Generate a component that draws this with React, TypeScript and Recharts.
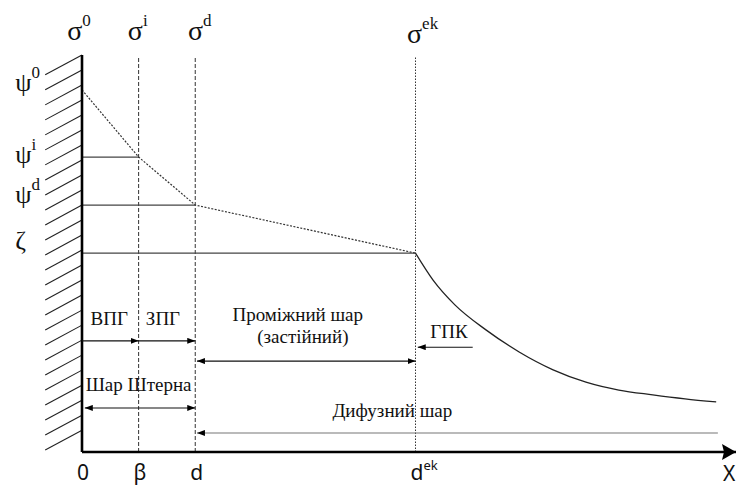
import { ComposedChart, Line, XAxis, YAxis, ReferenceLine, ReferenceDot } from "recharts";

// layer boundaries along x (0, β, d, d^ek)
const boundaryX = [0, 1, 2, 5.89];
const tickMain = ["0", "β", "d", "d"];
const tickSup = ["", "", "", "ek"];
const sigmaSup = ["0", "i", "d", "ek"];

// potential levels ψ0, ψi, ψd, ζ
const levelSymbol = ["ψ", "ψ", "ψ", "ζ"];
const levelSup = ["0", "i", "d", ""];
const potential = [9.12, 7.43, 6.22, 5.01];

// diffuse part of the potential curve
const diffuseX = [5.89, 6.2, 6.59, 7.14, 7.72, 8.32, 8.9, 9.48, 10.08, 10.65, 11.2];
const diffuseY = [5.01, 4.33, 3.7, 3.07, 2.52, 2.07, 1.76, 1.56, 1.44, 1.34, 1.26];

const dropData = boundaryX.map((x, i) => ({ x, y: potential[i] }));
const diffuseData = diffuseX.map((x, i) => ({ x, y: diffuseY[i] }));
const levelData = [1, 2, 3].map((i) => [
  { x: 0, y: potential[i] },
  { x: boundaryX[i], y: potential[i] },
]);

// wall hatching (decoration)
const hatch = Array.from({ length: 26 }, (_, i) => 10 - i * 0.378);

const SERIF = "Liberation Serif, DejaVu Serif, serif";
const SANS = "Noto Sans, Open Sans, sans-serif";

const note = (key: string, x: number, y: number, content: any) => (
  <ReferenceDot
    key={key}
    x={x}
    y={y}
    ifOverflow="visible"
    shape={(p: any) => <g transform={`translate(${p.cx},${p.cy})`}>{content}</g>}
  />
);

const label = (text: string) => (
  <text x={0} y={0} style={{ fontFamily: SERIF, fontSize: 19 }} textAnchor="middle" fill="#111">
    {text}
  </text>
);

const arrow = (key: string, pts: { x: number; y: number }[], both = false, stroke = "#111") => (
  <ReferenceLine
    key={key}
    segment={pts}
    ifOverflow="visible"
    stroke={stroke}
    strokeWidth={1.1}
    markerEnd="url(#head)"
    markerStart={both ? "url(#head)" : undefined}
  />
);

export default function App() {
  return (
    <div style={{ position: "absolute", left: 0, top: 0, background: "#fff" }}>
      <ComposedChart width={736} height={486} margin={{ top: 55, right: 0, left: 82, bottom: 0 }}>
        <defs>
          <marker id="head" viewBox="0 0 8 6" refX="8" refY="3" markerWidth="8" markerHeight="6"
            orient="auto-start-reverse" markerUnits="userSpaceOnUse">
            <path d="M0,0L8,3L0,6z" fill="#000" />
          </marker>
          <marker id="bigHead" viewBox="0 0 14 16" refX="14" refY="8" markerWidth="14" markerHeight="16"
            orient="auto" markerUnits="userSpaceOnUse">
            <path d="M0,0L14,8L0,16L2,8z" fill="#000" />
          </marker>
        </defs>
        <XAxis
          dataKey="x"
          type="number"
          domain={[0, 11.55]}
          allowDataOverflow
          height={34}
          ticks={boundaryX}
          interval={0}
          axisLine={false}
          tickLine={false}
          tick={(p: any) => {
            const i = boundaryX.indexOf(p.payload.value);
            return (
              <text x={p.x - 5} y={p.y + 20} style={{ fontFamily: SANS, fontSize: 21 }} fill="#111" textAnchor="start">
                {tickMain[i]}
                {tickSup[i] && <tspan style={{ fontSize: 13 }} dy={-10}>{tickSup[i]}</tspan>}
              </text>
            );
          }}
        />
        <YAxis type="number" domain={[0, 10]} hide allowDataOverflow />

        {hatch.map((y, i) => (
          <ReferenceLine key={`h${i}`} segment={[{ x: -0.65, y: y - 0.5 }, { x: 0, y }]}
            ifOverflow="visible" stroke="#222" strokeWidth={1.1} />
        ))}

        {boundaryX.slice(1).map((x, i) => (
          <ReferenceLine key={`v${i}`} segment={[{ x, y: 0 }, { x, y: 9.95 }]} ifOverflow="visible"
            stroke="#333" strokeWidth={1} strokeDasharray={i < 2 ? "4 2" : "1.5 1.5"} />
        ))}

        {levelData.map((d, i) => (
          <Line key={`l${i}`} data={d} dataKey="y" stroke="#444" strokeWidth={1.2}
            dot={false} activeDot={false} isAnimationActive={false} />
        ))}
        <Line data={dropData} dataKey="y" stroke="#333" strokeWidth={1.2} strokeDasharray="2 1.5"
          dot={false} activeDot={false} isAnimationActive={false} />
        <Line data={diffuseData} dataKey="y" type="monotone" stroke="#222" strokeWidth={1.3}
          dot={false} activeDot={false} isAnimationActive={false} />

        {/* wall and x axis */}
        <ReferenceLine segment={[{ x: 0, y: 0 }, { x: 0, y: 10 }]} ifOverflow="visible" stroke="#000" strokeWidth={2.6} />
        <ReferenceLine segment={[{ x: 0, y: 0 }, { x: 11.55, y: 0 }]} ifOverflow="visible" stroke="#000"
          strokeWidth={2.6} markerEnd="url(#bigHead)" />

        {arrow("a1", [{ x: 0, y: 2.8 }, { x: 1, y: 2.8 }])}
        {arrow("a2", [{ x: 1, y: 2.8 }, { x: 2, y: 2.8 }])}
        {arrow("a3", [{ x: 2.03, y: 2.29 }, { x: 5.89, y: 2.29 }], true)}
        {arrow("a4", [{ x: 6.9, y: 2.64 }, { x: 5.93, y: 2.64 }])}
        {arrow("a5", [{ x: 0.05, y: 1.11 }, { x: 2, y: 1.11 }], true)}
        {arrow("a6", [{ x: 11.23, y: 0.48 }, { x: 2.03, y: 0.48 }], false, "#777")}

        {note("t1", 0.48, 3.2, label("ВПГ"))}
        {note("t2", 1.43, 3.2, label("ЗПГ"))}
        {note("t3", 3.81, 3.3, label("Проміжний шар"))}
        {note("t4", 3.9, 2.75, label("(застійний)"))}
        {note("t5", 6.48, 2.87, label("ГПК"))}
        {note("t6", 1.0, 1.54, label("Шар Штерна"))}
        {note("t7", 5.48, 0.88, label("Дифузний шар"))}

        {boundaryX.map((x, i) =>
          note(`s${i}`, [-0.26, 0.81, 1.87, 5.74][i], i < 3 ? 10.38 : 10.3,
            <text style={{ fontFamily: SERIF, fontSize: 28 }} fill="#111">
              σ<tspan style={{ fontSize: 17 }} dy={-14}>{sigmaSup[i]}</tspan>
            </text>)
        )}
        {potential.map((y, i) =>
          note(`p${i}`, -1.18, [9.09, 7.28, 6.27, 5.11][i],
            <text style={{ fontFamily: SERIF, fontSize: 26 }} fill="#111">
              {levelSymbol[i]}
              {levelSup[i] && <tspan style={{ fontSize: 17 }} dy={-13}>{levelSup[i]}</tspan>}
            </text>)
        )}
        {note("x", 11.32, -0.72, <text style={{ fontFamily: SANS, fontSize: 21 }} fill="#111">X</text>)}
      </ComposedChart>
    </div>
  );
}
